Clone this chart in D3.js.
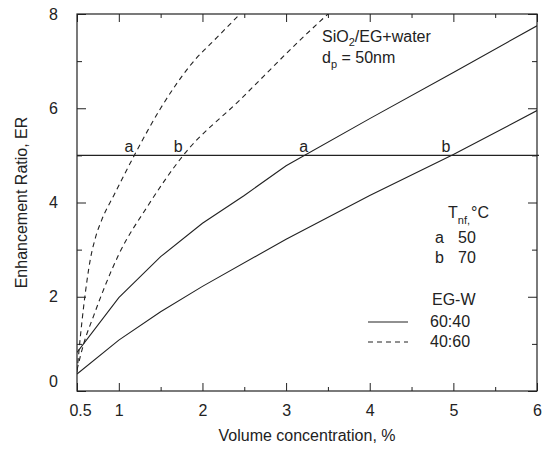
<!DOCTYPE html>
<html>
<head>
<meta charset="utf-8">
<script src="https://cdn.jsdelivr.net/npm/d3@7"></script>
<style>
  body { margin: 0; background: #fff; }
  text { font-family: "Liberation Sans", Arial, sans-serif; fill: #222; }
</style>
</head>
<body>
<svg id="chart"></svg>
<script>
// data
var solidA_x = [0.5, 1, 1.5, 2, 2.5, 3, 4, 5, 6];
var solidA_y = [0.82, 1.98, 2.85, 3.56, 4.15, 4.78, 5.78, 6.76, 7.75];
var solidB_x = [0.5, 1, 1.5, 2, 3, 4, 5, 6];
var solidB_y = [0.36, 1.08, 1.68, 2.22, 3.22, 4.15, 5.02, 5.95];
var dashedA_x = [0.5, 0.54, 0.58, 0.62, 0.66, 0.72, 0.8, 0.94, 1.2, 1.5, 1.85, 2.2, 2.45];
var dashedA_y = [0.4, 1.15, 1.8, 2.35, 2.8, 3.25, 3.65, 4.15, 5.05, 6.0, 6.9, 7.55, 8.0];
var dashedB_x = [0.5, 0.58, 0.7, 0.84, 1.0, 1.34, 1.77, 2.45, 3.17, 3.5];
var dashedB_y = [0.45, 1.0, 1.6, 2.25, 2.9, 3.91, 5.0, 6.18, 7.45, 8.0];
var refER = 5;
// where each curve crosses ER = 5, with its label
var crossX = [1.18, 1.77, 3.27, 4.97];
var crossLabel = ["a", "b", "a", "b"];
var xTicks = [0.5, 1, 2, 3, 4, 5, 6];
var xMinor = [1.5, 2.5, 3.5, 4.5, 5.5];
var yTicks = [0, 2, 4, 6, 8];
var yMinor = [1, 3, 5, 7];
var tempLabels = ["a", "b"];
var tempValues = ["50", "70"];
var ratioLabels = ["60:40", "40:60"];

var Width = 546, Height = 449;
var margin = {top: 14, right: 9, bottom: 58, left: 77},
    width = Width - margin.left - margin.right,
    height = Height - margin.top - margin.bottom;
var ink = "#222";

var svg = d3.select("#chart")
    .attr("width", Width)
    .attr("height", Height)
  .append("g")
    .attr("transform", "translate(" + margin.left + "," + margin.top + ")");

var x = d3.scaleLinear().domain([0.5, 6]).range([0, width]);
var y = d3.scaleLinear().domain([0, 8]).range([height, 0]);

function styleAxis(g) {
  g.select(".domain").remove();
  g.selectAll("line").attr("stroke", ink);
  g.selectAll("text").style("font-size", "16px").attr("fill", ink);
}

// bottom axis (ticks point inward)
svg.append("g")
  .attr("transform", "translate(0," + height + ")")
  .call(d3.axisBottom(x).tickValues(xTicks).tickSize(-8).tickPadding(14).tickFormat(d3.format("")))
  .call(styleAxis)
  .call(function(g) {
    g.selectAll("text").filter(function(d) { return d === 0.5; }).attr("dx", 3);
  });
svg.append("g")
  .attr("transform", "translate(0," + height + ")")
  .call(d3.axisBottom(x).tickValues(xMinor).tickSize(-4).tickFormat(""))
  .call(styleAxis);

// top axis
svg.append("g")
  .call(d3.axisTop(x).tickValues(xTicks).tickSize(-8).tickFormat(""))
  .call(styleAxis);
svg.append("g")
  .call(d3.axisTop(x).tickValues(xMinor).tickSize(-4).tickFormat(""))
  .call(styleAxis);

// left axis
svg.append("g")
  .call(d3.axisLeft(y).tickValues(yTicks).tickSize(-9).tickPadding(19))
  .call(styleAxis)
  .call(function(g) {
    g.selectAll("text").filter(function(d) { return d === 0; }).attr("dy", "-0.28em");
  });
svg.append("g")
  .call(d3.axisLeft(y).tickValues(yMinor).tickSize(-5).tickFormat(""))
  .call(styleAxis);

// right axis
svg.append("g")
  .attr("transform", "translate(" + width + ",0)")
  .call(d3.axisRight(y).tickValues(yTicks).tickSize(-9).tickFormat(""))
  .call(styleAxis);
svg.append("g")
  .attr("transform", "translate(" + width + ",0)")
  .call(d3.axisRight(y).tickValues(yMinor).tickSize(-5).tickFormat(""))
  .call(styleAxis);

// frame
svg.append("rect")
  .attr("width", width).attr("height", height)
  .attr("fill", "none").attr("stroke", ink).attr("stroke-width", 1.2);

// axis titles
svg.append("text")
  .attr("x", width / 2).attr("y", height + 50)
  .attr("text-anchor", "middle")
  .style("font-size", "16px")
  .text("Volume concentration, %");
svg.append("text")
  .attr("transform", "translate(" + (-50) + "," + (height / 2) + ") rotate(-90)")
  .attr("text-anchor", "middle")
  .style("font-size", "16px")
  .text("Enhancement Ratio, ER");

// curves
svg.append("clipPath").attr("id", "clip")
  .append("rect").attr("width", width).attr("height", height);
var plot = svg.append("g").attr("clip-path", "url(#clip)");

var line = d3.line()
  .x(function(d) { return x(d[0]); })
  .y(function(d) { return y(d[1]); });

var series = [
  {xs: solidA_x, ys: solidA_y, dash: null},
  {xs: solidB_x, ys: solidB_y, dash: null},
  {xs: dashedA_x, ys: dashedA_y, dash: "5,4"},
  {xs: dashedB_x, ys: dashedB_y, dash: "5,4"}
];
series.forEach(function(s) {
  var pts = s.xs.map(function(v, i) { return [v, s.ys[i]]; });
  plot.append("path")
    .datum(pts)
    .attr("fill", "none")
    .attr("stroke", ink)
    .attr("stroke-width", 1.1)
    .attr("stroke-dasharray", s.dash)
    .attr("d", line.curve(s.dash ? d3.curveMonotoneX : d3.curveLinear));
});

// reference line ER = 5
svg.append("line")
  .attr("x1", 0).attr("x2", width + 2)
  .attr("y1", y(refER)).attr("y2", y(refER))
  .attr("stroke", ink).attr("stroke-width", 1.2);

svg.selectAll(".cross")
  .data(crossX)
  .enter().append("text")
    .attr("class", "cross")
    .attr("x", function(d) { return x(d) - 5; })
    .attr("y", y(refER) - 3)
    .attr("text-anchor", "middle")
    .style("font-size", "16px")
    .text(function(d, i) { return crossLabel[i]; });

// annotation
var t1 = svg.append("text").attr("x", 245).attr("y", 28).style("font-size", "16px");
t1.append("tspan").text("SiO");
t1.append("tspan").attr("dy", 4).style("font-size", "11px").text("2");
t1.append("tspan").attr("dy", -4).text("/EG+water");
var t2 = svg.append("text").attr("x", 245).attr("y", 49).style("font-size", "16px");
t2.append("tspan").text("d");
t2.append("tspan").attr("dy", 5).style("font-size", "11px").text("p");
t2.append("tspan").attr("dy", -5).text(" = 50nm");

// legend: temperature
var t3 = svg.append("text").attr("x", 371).attr("y", 204).style("font-size", "16px");
t3.append("tspan").text("T");
t3.append("tspan").attr("dy", 6).style("font-size", "11px").text("nf, ");
t3.append("tspan").attr("dy", -6).attr("dx", -2).text("°C");

tempLabels.forEach(function(l, i) {
  svg.append("text").attr("x", 358).attr("y", 229 + i * 20).style("font-size", "16px").text(l);
  svg.append("text").attr("x", 381).attr("y", 229 + i * 20).style("font-size", "16px").text(tempValues[i]);
});

// legend: EG-W ratio
svg.append("text").attr("x", 355).attr("y", 291).style("font-size", "16px").text("EG-W");
ratioLabels.forEach(function(l, i) {
  var yy = 313 + i * 20;
  svg.append("line")
    .attr("x1", 291).attr("x2", 331)
    .attr("y1", yy - 5).attr("y2", yy - 5)
    .attr("stroke", ink).attr("stroke-width", 1.1)
    .attr("stroke-dasharray", i === 1 ? "5,4" : null);
  svg.append("text").attr("x", 353).attr("y", yy).style("font-size", "16px").text(l);
});
</script>
</body>
</html>
